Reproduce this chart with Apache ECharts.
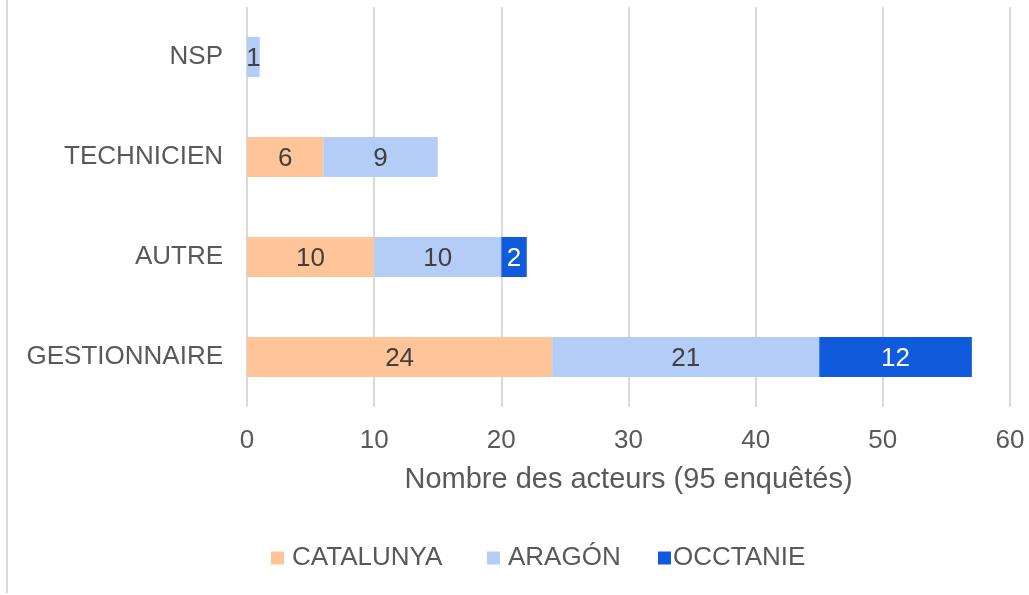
<!DOCTYPE html>
<html>
<head>
<meta charset="utf-8">
<script src="https://cdn.jsdelivr.net/npm/echarts@6/dist/echarts.min.js"></script>
<style>
  html, body { margin: 0; padding: 0; background: #fff; }
  #chart { width: 1029px; height: 595px; }
</style>
</head>
<body>
<div id="chart"></div>
<script>
// categories, bottom to top as drawn
const categories = ['GESTIONNAIRE', 'AUTRE', 'TECHNICIEN', 'NSP']
const catalunya = [24, 10, 6, 0]
const aragon = [21, 10, 9, 1]
const occtanie = [12, 2, 0, 0]
const xTicks = [0, 10, 20, 30, 40, 50, 60]
const axisName = 'Nombre des acteurs (95 enquêtés)'

const FONT = '"Liberation Sans", Arial, sans-serif'
const TEXT = '#595959'
const GRID = '#d9d9d9'

function seriesOf(name, values, color, labelColor) {
  return {
    name,
    type: 'bar',
    stack: 'total',
    barWidth: 40,
    data: values,
    itemStyle: { color },
    label: {
      show: true,
      position: 'inside',
      offset: [0, 2],
      color: labelColor,
      fontFamily: FONT,
      fontSize: 26,
      formatter: (p) => (p.value ? String(p.value) : ''),
    },
  }
}

const legendBase = {
  top: 540,
  icon: 'rect',
  itemWidth: 13,
  itemHeight: 13,
  textStyle: { color: TEXT, fontFamily: FONT, fontSize: 26 },
}

const chart = echarts.init(document.getElementById('chart'))
chart.setOption({
  animation: false,
  grid: { left: 247, right: 19, top: 7, bottom: 188, containLabel: false },
  legend: [
    { ...legendBase, left: 266, data: ['CATALUNYA'], textStyle: { ...legendBase.textStyle, padding: [0, 0, 0, 3] } },
    { ...legendBase, left: 482, data: ['ARAGÓN'], textStyle: { ...legendBase.textStyle, padding: [0, 0, 0, 3] } },
    { ...legendBase, left: 653, data: ['OCCTANIE'], textStyle: { ...legendBase.textStyle, padding: [0, 0, 0, -3] } },
  ],
  graphic: [
    {
      type: 'line',
      shape: { x1: 7, y1: 0, x2: 7, y2: 593 },
      style: { stroke: GRID, lineWidth: 2 },
    },
  ],
  xAxis: {
    type: 'value',
    min: xTicks[0],
    max: xTicks[xTicks.length - 1],
    interval: xTicks[1] - xTicks[0],
    name: axisName,
    nameLocation: 'middle',
    nameGap: 58,
    nameTextStyle: { color: TEXT, fontFamily: FONT, fontSize: 29 },
    axisLine: { show: false },
    axisTick: { show: false },
    axisLabel: { color: TEXT, fontFamily: FONT, fontSize: 26, margin: 21 },
    splitLine: { show: true, lineStyle: { color: GRID, width: 2 } },
  },
  yAxis: {
    type: 'category',
    data: categories,
    axisLine: { show: false },
    axisTick: { show: false },
    axisLabel: { color: TEXT, fontFamily: FONT, fontSize: 26, margin: 24 },
    splitLine: { show: false },
  },
  series: [
    seriesOf('CATALUNYA', catalunya, '#ffc599', '#404040'),
    seriesOf('ARAGÓN', aragon, '#b4cdf7', '#404040'),
    seriesOf('OCCTANIE', occtanie, '#0f5bdb', '#ffffff'),
  ],
})
</script>
</body>
</html>
